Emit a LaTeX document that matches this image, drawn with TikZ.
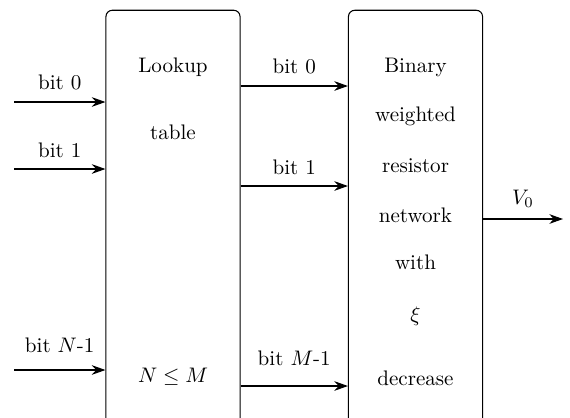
\documentclass[tikz,border=0pt]{standalone}
\usetikzlibrary{arrows.meta}

\begin{document}
\begin{tikzpicture}
[x=0.475pt,y=-0.475pt,>={Stealth[length=6.5pt,width=4.6pt]},line width=0.5pt,
	block/.style={draw,rounded corners=3pt,inner sep=0pt,
		minimum width=63.7pt,minimum height=204pt}]
\useasboundingbox (0,0) rectangle (570,417);
\clip (0,0) rectangle (570,417);

\node (lut) at (173,225)[block] {};
\node (dac) at (415.5,225)[block] {};

\node (l1) at (173,67) {Lookup};
\node (l2) at (173,132) {table};
\node (l3) at (173,377) {$N \leq M$};

\node (d1) at (415.5,67) {Binary};
\node (d2) at (415.5,116) {weighted};
\node (d3) at (415.5,166) {resistor};
\node (d4) at (415.5,215) {network};
\node (d5) at (415.5,262) {with};
\node (d6) at (415.5,316) {$\xi$};
\node (d7) at (415.5,378) {decrease};

\coordinate (i0) at (14,102);
\coordinate (i1) at (14,169);
\coordinate (iN) at (14,370);
\coordinate (m0) at (294,86);
\coordinate (m1) at (294,186);
\coordinate (mM) at (294,386);
\coordinate (out) at (563,219);

\draw[->] (i0) -- node[above=2pt] {bit 0} (i0 -| lut.west);
\draw[->] (i1) -- node[above=2pt] {bit 1} (i1 -| lut.west);
\draw[->] (iN) -- node[above=4.5pt] {bit $N$-1} (iN -| lut.west);

\draw[->] (m0 -| lut.east) -- node[above=2pt] {bit 0} (m0 -| dac.west);
\draw[->] (m1 -| lut.east) -- node[above=2pt] {bit 1} (m1 -| dac.west);
\draw[->] (mM -| lut.east) -- node[above=6pt] {bit $M$-1} (mM -| dac.west);

\draw[->] (out -| dac.east) -- node[above=2pt] {$V_0$} (out);

\end{tikzpicture}
\end{document}
